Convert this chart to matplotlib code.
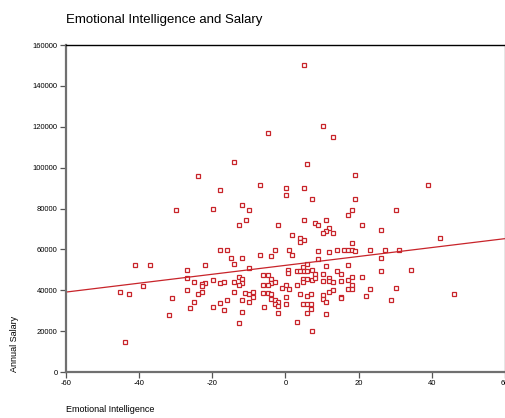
import numpy as np
import matplotlib
matplotlib.use("Agg")
import matplotlib.pyplot as plt

plt.rcParams['font.family'] = ['Liberation Sans', 'DejaVu Sans']

# Emotional intelligence score (centred) and annual salary
ei = [
    5.0, 10.2, -4.8, 13.0, -14.1, 5.9, 19.1, -23.8, -7.0, 39.0,
    -18.0, 0.1, 5.0, 0.1, 7.2, 19.1, -11.9, -29.9, -19.9, -10.1,
    18.2, 30.1, 17.0, -10.9, 5.0, 11.2, -12.8, -2.1, 8.0, 9.0,
    21.0, 12.0, 11.2, 26.2, 10.2, 13.0, 1.9, 4.0, 42.2, 5.1,
    4.0, 18.2, -18.0, -15.9, -3.0, 1.0, 9.0, 12.0, 14.2, 16.0,
    17.2, 18.2, 19.1, 23.1, 27.2, 31.0, -7.0, -3.9, 1.9, -14.9,
    -11.9, 26.1, 9.0, -14.1, -22.1, -41.1, -37.1, -10.1, 11.1, 17.0,
    6.0, 4.9, -26.9, 0.8, 0.8, 3.1, 4.1, 5.1, 6.0, 7.2,
    14.2, 15.1, 26.1, 34.2, -6.1, -4.7, 8.1, 10.2, -26.9, -12.8,
    -3.9, -11.9, -19.9, 4.9, 6.0, 7.2, 8.1, 12.0, 17.0, 18.2,
    21.0, -25.1, -22.1, -18.0, -16.8, -14.1, -11.9, -3.9, -3.0, 4.9,
    10.2, 12.0, 13.1, 15.1, 18.2, -22.9, -22.9, -12.8, -6.1, -4.7,
    -39.0, 0.1, -0.9, 3.1, 1.0, 13.0, 17.0, 18.2, 23.1, 30.2,
    -26.9, -45.1, -42.9, -22.9, -23.9, -14.1, -11.0, -10.1, -8.8, -8.8,
    -6.1, -4.7, -3.9, -3.9, -3.0, -2.1, 12.0, 10.2, 4.0, 5.9,
    7.1, 0.1, 15.1, 15.1, 22.1, 46.1, -30.9, -15.9, -11.9, 10.2,
    28.9, -25.1, -10.1, 11.1, -18.0, -2.9, 0.1, 4.9, 5.9, 7.1,
    -19.9, -6.0, -2.1, -26.1, 7.1, -16.8, -11.9, 5.9, -2.1, -31.8,
    11.1, -12.8, 3.1, 7.2, -43.8,
]
salary_k = [
    150.3, 120.2, 116.9, 115.1, 102.9, 101.9, 96.5, 95.8, 91.6, 91.4,
    89.3, 90.0, 90.0, 86.5, 84.9, 84.9, 81.6, 79.4, 80.0, 79.5,
    79.4, 79.2, 76.7, 74.3, 74.3, 74.3, 71.7, 71.7, 72.8, 71.7,
    71.7, 70.5, 69.1, 69.4, 67.8, 67.8, 67.2, 65.6, 65.5, 64.5,
    63.8, 62.9, 59.6, 59.6, 59.5, 59.5, 59.1, 58.5, 59.5, 59.5,
    59.5, 59.5, 59.1, 59.5, 59.5, 59.5, 57.4, 56.9, 57.4, 55.8,
    55.7, 56.0, 55.5, 52.7, 52.4, 52.4, 52.4, 51.1, 51.9, 52.4,
    52.8, 51.5, 49.7, 49.9, 48.6, 49.5, 49.5, 49.5, 49.5, 50.0,
    49.5, 47.8, 49.6, 50.1, 47.4, 47.4, 47.8, 47.8, 46.2, 46.4,
    45.6, 45.3, 45.2, 45.4, 45.4, 45.2, 46.2, 46.2, 45.2, 46.5,
    46.4, 44.0, 43.6, 43.6, 44.0, 44.0, 43.7, 43.7, 44.2, 44.1,
    44.3, 44.3, 44.1, 44.3, 42.5, 42.9, 42.0, 42.6, 42.5, 42.5,
    42.3, 42.5, 41.2, 42.6, 40.4, 40.3, 40.8, 40.4, 40.4, 41.3,
    40.2, 39.2, 38.1, 39.1, 38.1, 39.2, 38.6, 38.0, 39.3, 36.6,
    38.9, 38.5, 38.1, 35.6, 35.1, 34.3, 39.2, 37.7, 38.1, 37.0,
    38.1, 36.6, 36.8, 36.1, 37.0, 38.1, 36.4, 35.4, 35.3, 35.5,
    35.3, 34.3, 34.3, 34.3, 33.6, 33.5, 33.2, 33.2, 33.2, 33.2,
    32.0, 32.0, 32.2, 31.4, 30.9, 30.3, 29.2, 29.1, 28.7, 28.1,
    28.2, 24.2, 24.3, 19.9, 14.9,
]
salary = [v * 1000 for v in salary_k]

x_ticks = [-60, -40, -20, 0, 20, 40, 60]
y_ticks = [0, 20000, 40000, 60000, 80000, 100000, 120000, 140000, 160000]

red = '#c8242a'

fig = plt.figure(figsize=(5.06, 4.18), dpi=100)
ax = fig.add_axes([0.1304, 0.110, 0.8676, 0.7823])

ax.plot(ei, salary, linestyle='none', marker='s', markersize=3.4,
        markerfacecolor='white', markeredgecolor=red, markeredgewidth=0.9)

# least-squares fit line across the full x range
slope, intercept = np.polyfit(ei, salary, 1)
xs = np.array([-60, 60])
ax.plot(xs, intercept + slope * xs, color=red, linewidth=0.9)

ax.set_xlim(-60, 60)
ax.set_ylim(0, 160000)
ax.set_xticks(x_ticks)
ax.set_xticklabels([str(t) for t in x_ticks])
ax.set_yticks(y_ticks)
ax.set_yticklabels([str(t) for t in y_ticks])

ax.tick_params(axis='both', direction='out', length=4, width=0.9,
               colors='#555555', labelsize=5.5, labelcolor='black', pad=2)

for side in ('left', 'bottom'):
    ax.spines[side].set_color('#707070')
    ax.spines[side].set_linewidth(1.6)
ax.spines['top'].set_color('black')
ax.spines['top'].set_linewidth(1.0)
ax.spines['right'].set_color('#808080')
ax.spines['right'].set_linewidth(1.0)

fig.text(66 / 506, 1 - 20 / 418, 'Emotional Intelligence and Salary',
         fontsize=9.5, ha='left', va='center')
fig.text(66 / 506, 1 - 410 / 418, 'Emotional Intelligence',
         fontsize=6.5, ha='left', va='center')
fig.text(15 / 506, 1 - 372 / 418, 'Annual Salary', fontsize=6.5,
         rotation=90, ha='center', va='bottom')

fig.savefig('out.png', dpi=100)
